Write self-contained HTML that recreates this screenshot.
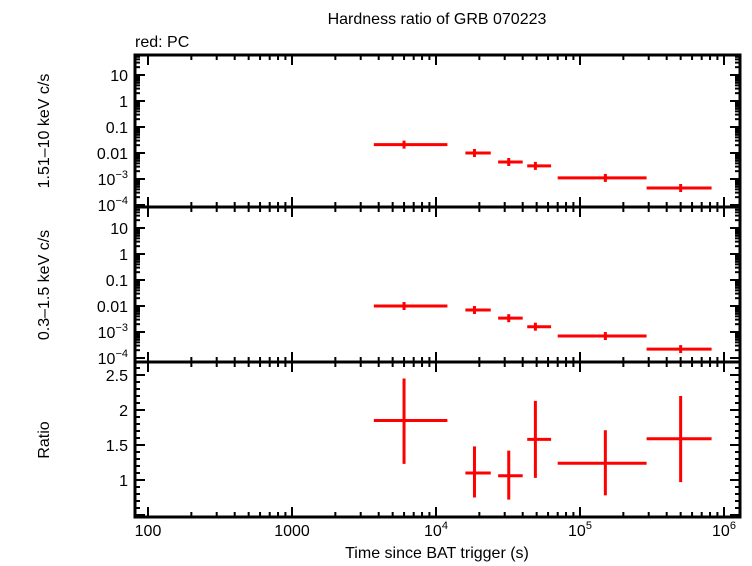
<!DOCTYPE html>
<html><head><meta charset="utf-8"><style>
body{margin:0;background:#fff;}
svg{display:block;font-family:"Liberation Sans",sans-serif;}
</style></head><body>
<svg id="c" width="752" height="566" viewBox="0 0 752 566">
<text x="437" y="24" font-size="16" text-anchor="middle">Hardness ratio of GRB 070223</text>
<text x="135" y="47" font-size="16">red: PC</text>
<text transform="translate(49,131) rotate(-90)" font-size="16" text-anchor="middle">1.51–10 keV c/s</text>
<text transform="translate(49,285) rotate(-90)" font-size="16" text-anchor="middle">0.3–1.5 keV c/s</text>
<text transform="translate(49,440) rotate(-90)" font-size="16" text-anchor="middle">Ratio</text>
<text x="437" y="558" font-size="16" text-anchor="middle">Time since BAT trigger (s)</text>
<g id="g"></g>
</svg>
<script>
const xLo=[3700,16000,27000,43000,70000,290000];
const xMid=[6000,18500,32000,49000,150000,500000];
const xHi=[12000,24000,40000,63000,290000,820000];
const hard=[0.021,0.010,0.0045,0.0032,0.0011,0.00045];
const soft=[0.010,0.0070,0.0034,0.0016,0.0007,0.00022];
const ratio=[1.85,1.10,1.06,1.58,1.24,1.59];
const ratioLo=[1.23,0.75,0.72,1.03,0.78,0.97];
const ratioHi=[2.45,1.48,1.42,2.13,1.71,2.20];
const xTicks=[100,1000,1e4,1e5,1e6];
const xTickLabels=["100","1000","10<tspan font-size='11' dy='-7'>4</tspan>","10<tspan font-size='11' dy='-7'>5</tspan>","10<tspan font-size='11' dy='-7'>6</tspan>"];
const logTickLabels=["10","1","0.1","0.01","10<tspan font-size='11' dy='-7'>−3</tspan>","10<tspan font-size='11' dy='-7'>−4</tspan>"];
const logTickVals=[10,1,0.1,0.01,0.001,0.0001];
const ratioTicks=[1,1.5,2,2.5];

const L=135,R=740;
const X=v=>148+144*(Math.log10(v)-2);
const panels=[{t:55,b:207,Y:v=>75-26*(Math.log10(v)-1)},{t:207,b:362,Y:v=>228-26*(Math.log10(v)-1)},{t:362,b:517,Y:v=>480-70*(v-1)}];
const g=document.getElementById('g');
const NS='http://www.w3.org/2000/svg';
function el(tag,a,name){const e=document.createElementNS(NS,tag);for(const k in a)e.setAttribute(k,a[k]);


g.appendChild(e);return e;}
function ln(x1,y1,x2,y2,w,c,name){return el('line',{x1,y1,x2,y2,stroke:c||'#000','stroke-width':w||2},name);}

panels.forEach((p,pi)=>{
  el('rect',{x:L,y:p.t,width:R-L,height:p.b-p.t,fill:'none',stroke:'#000','stroke-width':3},'panel-frame-'+pi);
  // x ticks
  for(let d=2;d<=6;d++)for(let m=1;m<10;m++){const v=m*Math.pow(10,d);const x=X(v);if(x<L||x>R)continue;
    const len=m===1?10:5;
    ln(x,p.b,x,p.b-len,2,'#000','x-tick');ln(x,p.t,x,p.t+len,2,'#000','x-tick');}
  if(pi<2){
    for(let d=-4;d<=1;d++)for(let m=1;m<10;m++){const v=m*Math.pow(10,d);const y=p.Y(v);if(y<p.t||y>p.b)continue;
      const len=m===1?10:5;ln(L,y,L+len,y,2,'#000','y-tick');ln(R,y,R-len,y,2,'#000','y-tick');}
    logTickVals.forEach((v,i)=>{const t=el('text',{x:128,y:p.Y(v)+6,'font-size':16,'text-anchor':'end'},'y-tick-label');t.innerHTML=logTickLabels[i];});
    const vals=pi===0?hard:soft;
    vals.forEach((v,i)=>{const y=p.Y(v);
      ln(X(xLo[i]),y,X(xHi[i]),y,3,'#f00',(pi===0?'hard':'soft')+'-bar-'+i);
      ln(X(xMid[i]),y-4,X(xMid[i]),y+4,3,'#f00',(pi===0?'hard':'soft')+'-err-'+i);});
  }else{
    for(let v=0.5;v<=2.7;v+=0.1){const y=p.Y(v);if(y<p.t||y>p.b)continue;const major=Math.abs(v*2-Math.round(v*2))<1e-6;
      const len=major?10:5;ln(L,y,L+len,y,2,'#000','y-tick');ln(R,y,R-len,y,2,'#000','y-tick');}
    ratioTicks.forEach(v=>{const t=el('text',{x:128,y:p.Y(v)+6,'font-size':16,'text-anchor':'end'},'y-tick-label');t.textContent=String(v);});
    ratio.forEach((v,i)=>{
      ln(X(xLo[i]),p.Y(v),X(xHi[i]),p.Y(v),3,'#f00','ratio-bar-'+i);
      ln(X(xMid[i]),p.Y(ratioLo[i]),X(xMid[i]),p.Y(ratioHi[i]),3,'#f00','ratio-err-'+i);});
  }
});
xTicks.forEach((v,i)=>{const t=el('text',{x:X(v),y:536,'font-size':16,'text-anchor':'middle'},'x-tick-label');t.innerHTML=xTickLabels[i];});
</script>
</body></html>
